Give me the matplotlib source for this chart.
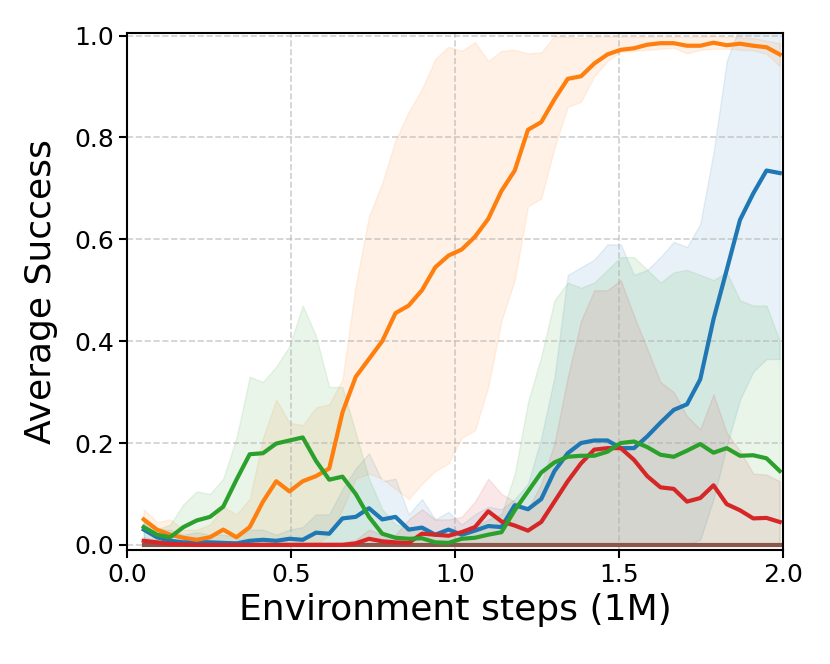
import numpy as np
import matplotlib
matplotlib.use("Agg")
import matplotlib.pyplot as plt

# training steps (millions), one sample every ~0.04M
steps = np.linspace(0.05, 1.99, 49)

# orange run
orange_mean = [0.05, 0.03, 0.02, 0.014, 0.01, 0.015, 0.03, 0.015, 0.035, 0.085,
               0.125, 0.105, 0.125, 0.135, 0.15, 0.26, 0.33, 0.365, 0.40, 0.455,
               0.47, 0.50, 0.545, 0.568, 0.58, 0.605, 0.64, 0.695, 0.735, 0.815,
               0.83, 0.875, 0.915, 0.92, 0.945, 0.963, 0.972, 0.975, 0.982, 0.985,
               0.985, 0.98, 0.98, 0.986, 0.981, 0.984, 0.98, 0.977, 0.963]
orange_lo = [0.03, 0.01, 0.0, 0.0, 0.0, 0.0, 0.0, 0.0, 0.0, 0.0,
             0.0, 0.0, 0.0, 0.0, 0.02, 0.07, 0.13, 0.14, 0.13, 0.11,
             0.09, 0.12, 0.145, 0.16, 0.21, 0.225, 0.31, 0.44, 0.52, 0.665,
             0.68, 0.78, 0.86, 0.87, 0.92, 0.95, 0.968, 0.97, 0.972, 0.974,
             0.976, 0.965, 0.972, 0.974, 0.974, 0.972, 0.971, 0.964, 0.94]
orange_hi = [0.07, 0.045, 0.05, 0.03, 0.03, 0.04, 0.075, 0.06, 0.09, 0.21,
             0.285, 0.24, 0.235, 0.27, 0.276, 0.325, 0.51, 0.645, 0.71, 0.795,
             0.85, 0.895, 0.954, 0.978, 0.97, 0.987, 0.95, 0.97, 0.972, 0.965,
             0.967, 0.999, 0.998, 0.995, 0.998, 0.999, 0.998, 0.997, 0.998, 0.999,
             0.998, 0.997, 0.998, 0.999, 0.998, 0.997, 0.995, 0.99, 0.985]

# blue run
blue_mean = [0.03, 0.015, 0.008, 0.005, 0.006, 0.005, 0.004, 0.003, 0.008, 0.01,
             0.008, 0.012, 0.01, 0.024, 0.022, 0.052, 0.055, 0.072, 0.05, 0.055,
             0.03, 0.034, 0.02, 0.03, 0.02, 0.028, 0.037, 0.035, 0.078, 0.07,
             0.09, 0.145, 0.18, 0.2, 0.205, 0.205, 0.19, 0.19, 0.213, 0.24,
             0.265, 0.276, 0.325, 0.443, 0.54, 0.638, 0.69, 0.735, 0.73]
blue_lo = [0.01, 0.0, 0.0, 0.0, 0.0, 0.0, 0.0, 0.0, 0.0, 0.0,
           0.0, 0.0, 0.0, 0.0, 0.0, 0.0, 0.0, 0.0, 0.0, 0.0,
           0.0, 0.0, 0.0, 0.0, 0.0, 0.0, 0.0, 0.0, 0.0, 0.0,
           0.0, 0.0, 0.0, 0.0, 0.0, 0.0, 0.0, 0.0, 0.0, 0.0,
           0.0, 0.0, 0.01, 0.09, 0.194, 0.285, 0.34, 0.365, 0.365]
blue_hi = [0.05, 0.03, 0.03, 0.02, 0.025, 0.02, 0.02, 0.015, 0.03, 0.03,
           0.02, 0.03, 0.035, 0.06, 0.06, 0.11, 0.15, 0.18, 0.125, 0.13,
           0.06, 0.09, 0.05, 0.065, 0.04, 0.06, 0.075, 0.07, 0.09, 0.12,
           0.21, 0.33, 0.53, 0.545, 0.56, 0.59, 0.59, 0.53, 0.54, 0.565,
           0.595, 0.585, 0.63, 0.77, 0.95, 1.02, 1.05, 1.05, 1.05]

# green run
green_mean = [0.035, 0.02, 0.015, 0.035, 0.048, 0.055, 0.075, 0.128, 0.178, 0.18,
              0.199, 0.205, 0.211, 0.165, 0.128, 0.134, 0.1, 0.055, 0.022, 0.014,
              0.012, 0.013, 0.005, 0.004, 0.012, 0.014, 0.02, 0.025, 0.068, 0.105,
              0.142, 0.162, 0.173, 0.175, 0.175, 0.183, 0.2, 0.203, 0.192, 0.177,
              0.173, 0.185, 0.198, 0.181, 0.19, 0.175, 0.176, 0.17, 0.145]
green_lo = [0.0] * 49
green_hi = [0.045, 0.03, 0.04, 0.08, 0.105, 0.1, 0.13, 0.21, 0.33, 0.32,
            0.35, 0.39, 0.47, 0.41, 0.31, 0.31, 0.22, 0.13, 0.07, 0.04,
            0.035, 0.03, 0.02, 0.02, 0.03, 0.035, 0.05, 0.06, 0.14, 0.28,
            0.37, 0.48, 0.515, 0.505, 0.515, 0.54, 0.565, 0.565, 0.54, 0.515,
            0.535, 0.54, 0.53, 0.52, 0.535, 0.48, 0.47, 0.47, 0.40]

# red run
red_mean = [0.008, 0.005, 0.002, 0.001, 0.0, 0.0, 0.0, 0.0, 0.0, 0.0,
            0.0, 0.0, 0.0, 0.0, 0.0, 0.0, 0.003, 0.012, 0.007, 0.005,
            0.004, 0.022, 0.02, 0.018, 0.025, 0.035, 0.066, 0.046, 0.038, 0.028,
            0.045, 0.085, 0.125, 0.16, 0.187, 0.19, 0.19, 0.167, 0.135, 0.113,
            0.11, 0.085, 0.092, 0.117, 0.08, 0.068, 0.052, 0.053, 0.045]
red_lo = [0.0] * 49
red_hi = [0.015, 0.01, 0.005, 0.005, 0.005, 0.005, 0.005, 0.005, 0.005, 0.005,
          0.005, 0.005, 0.005, 0.005, 0.005, 0.005, 0.01, 0.03, 0.02, 0.02,
          0.05, 0.07, 0.05, 0.05, 0.055, 0.085, 0.13, 0.1, 0.085, 0.07,
          0.12, 0.2, 0.33, 0.44, 0.5, 0.5, 0.52, 0.45, 0.385, 0.32,
          0.3, 0.253, 0.227, 0.296, 0.22, 0.185, 0.14, 0.138, 0.125]

# brown run never succeeds
brown_mean = [0.0] * 49

fig = plt.figure(figsize=(8.3, 6.64), dpi=100)
ax = fig.add_axes([0.1534, 0.1717, 0.79, 0.7786])

# brown first so the red line sits on top of it at zero
ax.fill_between(steps, brown_mean, brown_mean, color="tab:brown", alpha=0.1)
ax.plot(steps, brown_mean, color="tab:brown", lw=3)

runs = [
    (blue_mean, blue_lo, blue_hi, "tab:blue"),
    (orange_mean, orange_lo, orange_hi, "tab:orange"),
    (red_mean, red_lo, red_hi, "tab:red"),
    (green_mean, green_lo, green_hi, "tab:green"),
]
for mean, lo, hi, col in runs:
    ax.fill_between(steps, lo, hi, color=col, alpha=0.1)
for mean, lo, hi, col in runs:
    ax.plot(steps, mean, color=col, lw=3)

ax.set_xlim(0.0, 2.0)
ax.set_ylim(-0.01, 1.005)
ax.set_xticks([0.0, 0.5, 1.0, 1.5, 2.0])
ax.set_yticks([0.0, 0.2, 0.4, 0.6, 0.8, 1.0])
ax.grid(True, linestyle="--", alpha=0.6, lw=1.2)
ax.tick_params(labelsize=18, length=6, width=1.5)
for s in ax.spines.values():
    s.set_linewidth(1.5)

ax.set_xlabel("Environment steps (1M)", fontsize=26)
ax.set_ylabel("Average Success", fontsize=26, labelpad=12)

fig.savefig("out.png", dpi=100)
